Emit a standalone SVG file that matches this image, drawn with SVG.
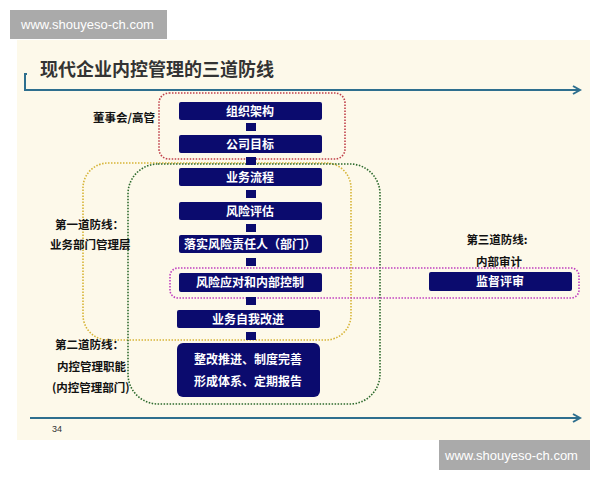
<svg xmlns="http://www.w3.org/2000/svg" width="600" height="480" viewBox="0 0 600 480">
<defs>
<style>
.t{font-family:"Noto Sans CJK SC","Liberation Sans",sans-serif;font-weight:bold}
.bx{fill:#0b0b6e}
.bt{fill:#fff;font-size:12px;text-anchor:middle}
.lb{fill:#111;font-size:11.5px}
.wm{fill:#aaaaaa}
.wt{fill:#fff;font-family:"Liberation Sans",sans-serif;font-size:13px}
.ln{stroke:#2e6f8e;stroke-width:2;fill:none}
</style>
<marker id="ar" viewBox="0 0 10 10" refX="8" refY="5" markerWidth="5" markerHeight="5" orient="auto"><path d="M1,1 L8,5 L1,9" fill="none" stroke="#2e6f8e" stroke-width="2"/></marker>
</defs>
<rect width="600" height="480" fill="#fff"/>
<rect x="17" y="40" width="573" height="400" fill="#fdf9ea"/>
<g id="wm1"><rect class="wm" x="10" y="10" width="157" height="29"/><text class="wt" x="21" y="29">www.shouyeso-ch.com</text></g>
<g id="wm2"><rect class="wm" x="439" y="440" width="151" height="30"/><text class="wt" x="445" y="460">www.shouyeso-ch.com</text></g>
<text class="t" x="40" y="76" font-size="18" fill="#333">现代企业内控管理的三道防线</text>
<path class="ln" d="M27,74 H25 V90 H580" marker-end="url(#ar)"/>
<path class="ln" d="M30,418 H580" marker-end="url(#ar)"/>
<text x="52" y="432" font-family="Liberation Sans,sans-serif" font-size="9" fill="#333">34</text>
<g id="groups" fill="none" stroke-width="1.6" stroke-dasharray="1.5 1.5">
<rect x="159" y="93" width="186" height="66" rx="10" stroke="#c0404a"/>
<rect x="83" y="163" width="268" height="177" rx="25" stroke="#d6b436"/>
<rect x="128" y="164" width="252" height="240" rx="30" stroke="#2e6b2e"/>
<rect x="170" y="268" width="409" height="30" rx="8" stroke="#c040c0"/>
</g>
<g id="connectors" fill="#0b0b6e">
<rect x="246" y="123" width="10" height="8"/>
<rect x="246" y="157" width="10" height="8"/>
<rect x="246" y="190" width="10" height="8"/>
<rect x="246" y="224" width="10" height="8"/>
<rect x="246" y="258" width="10" height="8"/>
<rect x="246" y="297" width="10" height="8"/>
<rect x="246" y="332" width="10" height="8"/>
</g>
<g id="n1"><rect class="bx" x="179" y="102" width="143" height="18" rx="2"/><text class="t bt" x="250" y="116">组织架构</text></g>
<g id="n2"><rect class="bx" x="179" y="135" width="143" height="18" rx="2"/><text class="t bt" x="250" y="149">公司目标</text></g>
<g id="n3"><rect class="bx" x="179" y="168" width="143" height="18" rx="2"/><text class="t bt" x="250" y="182">业务流程</text></g>
<g id="n4"><rect class="bx" x="179" y="202" width="143" height="18" rx="2"/><text class="t bt" x="250" y="216">风险评估</text></g>
<g id="n5"><rect class="bx" x="179" y="235" width="143" height="18" rx="2"/><text class="t bt" x="250" y="249">落实风险责任人（部门）</text></g>
<g id="n6"><rect class="bx" x="179" y="273" width="143" height="19" rx="2"/><text class="t bt" x="250" y="287">风险应对和内部控制</text></g>
<g id="n7"><rect class="bx" x="177" y="310" width="143" height="18" rx="2"/><text class="t bt" x="248" y="324">业务自我改进</text></g>
<g id="n8"><rect class="bx" x="177" y="343" width="143" height="54" rx="6"/><text class="t bt" x="248" y="364">整改推进、制度完善</text><text class="t bt" x="248" y="386">形成体系、定期报告</text></g>
<g id="n9"><rect class="bx" x="429" y="272" width="143" height="19" rx="2"/><text class="t bt" x="500" y="286">监督评审</text></g>
<g id="labels">
<text class="t lb" x="155" y="122" text-anchor="end">董事会/高管</text>
<text class="t lb" x="55" y="229">第一道防线：</text>
<text class="t lb" x="50" y="249">业务部门管理层</text>
<text class="t lb" x="497" y="244" text-anchor="middle">第三道防线:</text>
<text class="t lb" x="499" y="266" text-anchor="middle">内部审计</text>
<text class="t lb" x="55" y="349">第二道防线：</text>
<text class="t lb" x="57" y="371">内控管理职能</text>
<text class="t lb" x="52" y="392">(内控管理部门)</text>
</g>
</svg>
